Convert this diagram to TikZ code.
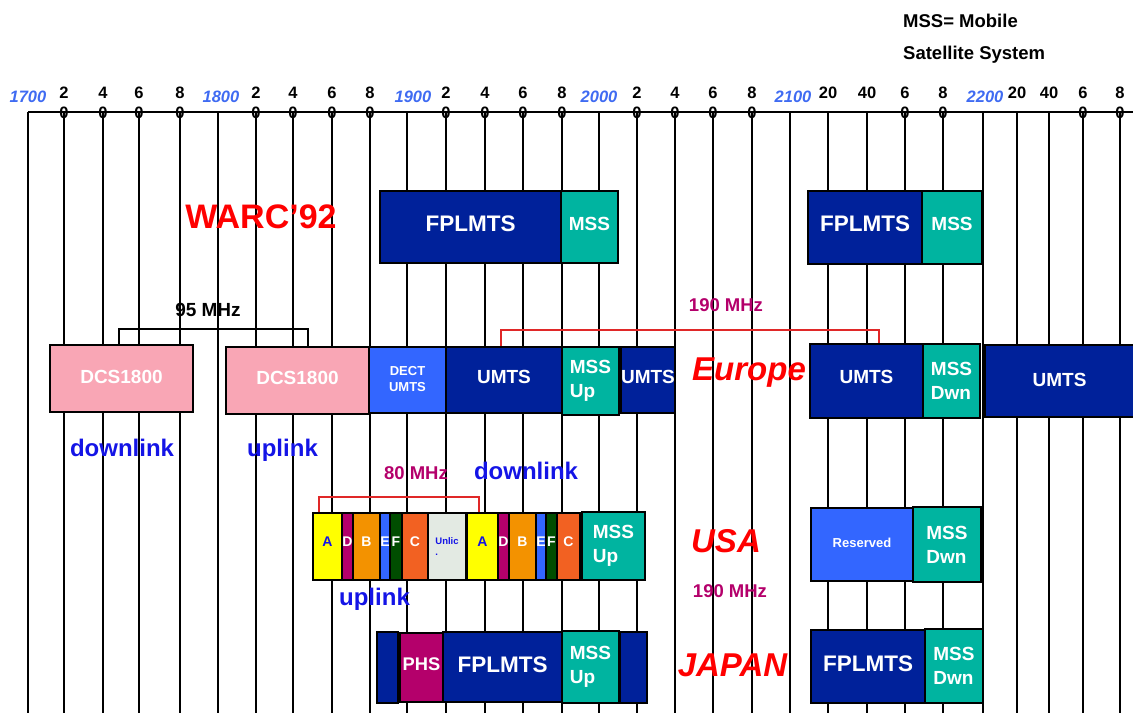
\documentclass[tikz,border=0pt]{standalone}
\usepackage{fontspec}
\setmainfont{Liberation Sans}
\usepackage{tikz}
\usetikzlibrary{positioning,calc}
\usepackage{xcolor}
\definecolor{bandNavy}{HTML}{00219A}
\definecolor{bandTeal}{HTML}{00B4A0}
\definecolor{bandPink}{HTML}{F9A6B5}
\definecolor{bandBlue}{HTML}{3366FF}
\definecolor{bandPlum}{HTML}{B4006B}
\definecolor{bandYellow}{HTML}{FFFF00}
\definecolor{bandOrange}{HTML}{F39200}
\definecolor{bandRust}{HTML}{F26122}
\definecolor{bandGreen}{HTML}{004D00}
\definecolor{bandGrey}{HTML}{E3EAE3}
\definecolor{yearBlue}{HTML}{3F6BF2}
\definecolor{linkBlue}{HTML}{1414E6}
\definecolor{regionRed}{HTML}{FF0000}
\definecolor{bracketRed}{HTML}{E02828}
\newcommand{\fsz}[2]{\fontsize{#1}{#2}\selectfont}

\begin{document}
\begin{tikzpicture}[x=1pt,y=-1pt,every node/.style={inner sep=0pt},
  band/.style={draw=black,line width=1.6pt,text=white,font=\bfseries\fsz{19}{24},align=center},
  wh/.style 2 args={minimum width=#1pt,minimum height=#2pt},
  navybox/.style={band,fill=bandNavy},
  tealbox/.style={band,fill=bandTeal,align=left},
  pinkbox/.style={band,fill=bandPink},
  bluebox/.style={band,fill=bandBlue},
  bigtxt/.style={font=\bfseries\fsz{22.5}{26}},
  chan/.style={band,font=\bfseries\fsz{14}{16}},
  region/.style={text=regionRed,font=\bfseries\itshape\fsz{33}{36}},
  mhz/.style={text=bandPlum,font=\bfseries\fsz{18.5}{22}},
  link/.style={text=linkBlue,font=\bfseries\fsz{24}{28}},
  yearlbl/.style={text=yearBlue,font=\bfseries\itshape\fsz{16.5}{20}},
  numlbl/.style={font=\bfseries\fsz{16.5}{20},align=center},
  gridline/.style={line width=1.3pt},
  brk/.style={line width=1.2pt}]
\useasboundingbox (0,0) rectangle (1133,713);

% frequency scale
\foreach \gx in {28,64,103,139,180,218,256,293,332,370,407,446,485,523,562,599,637,675,713,752,790,828,867,905,943,983,1017,1049,1083,1120}
  \draw[gridline] (\gx,112) -- (\gx,713);
\draw[line width=1.8pt] (28,112) -- (1133,112);
\foreach \gx/\gy in {28/1700,221/1800,413/1900,599/2000,793/2100,985/2200}
  \node[yearlbl] (y\gy) at (\gx,97) {\gy};
\foreach \gx/\ga in {64/2,103/4,139/6,180/8,256/2,293/4,332/6,370/8,446/2,485/4,523/6,562/8,637/2,675/4,713/6,752/8,905/6,943/8,1083/6,1120/8}
  \node[numlbl] (n\gx) at (\gx,102.5) {\ga\\0};
\foreach \gx/\ga in {828/20,867/40,1017/20,1049/40}
  \node[numlbl] (n\gx) at (\gx,93) {\ga};

\node[anchor=west,font=\bfseries\fsz{18.5}{22}] (mss1) at (903,21) {MSS= Mobile};
\node[anchor=west,font=\bfseries\fsz{18.5}{22}] (mss2) at (903,55) {Satellite System};

% WARC'92
\node[region,font=\bfseries\fsz{34}{36}] (warc) at (261,216.5) {WARC\symbol{39}92};
\node[navybox,bigtxt,wh={181}{72}] (wF1) at (470.5,227) {\raisebox{7pt}{FPLMTS}};
\node[tealbox,wh={57}{72}] (wM1) at (589.5,227) {\raisebox{7pt}{MSS}};
\node[navybox,bigtxt,wh={114}{73}] (wF2) at (865,227.5) {\raisebox{7pt}{FPLMTS}};
\node[tealbox,wh={60}{73}] (wM2) at (952,227.5) {\raisebox{7pt}{MSS}};

% Europe
\node[pinkbox,wh={143}{67}] (eD1) at (121.5,378.5) {\raisebox{4pt}{DCS1800}};
\node[pinkbox,wh={143}{67}] (eD2) at (297.5,380.5) {\raisebox{6pt}{DCS1800}};
\node[bluebox,wh={77}{66},font=\bfseries\fsz{13}{16}] (eDe) at (407.5,380) {\raisebox{8pt}{\begin{tabular}{@{}c@{}}DECT\\UMTS\end{tabular}}};
\node[navybox,wh={116}{66}] (eU1) at (504,380) {\raisebox{7pt}{UMTS}};
\node[tealbox,wh={57}{68}] (eM1) at (590.5,381) {MSS\\Up};
\node[navybox,wh={54}{66}] (eU2) at (648,380) {\raisebox{7pt}{UMTS}};
\node[region] (europe) at (749,373) {Europe};
\node[navybox,wh={113}{74}] (eU3) at (866.5,381) {\raisebox{8pt}{UMTS}};
\node[tealbox,wh={57}{74}] (eM2) at (951.5,381) {MSS\\Dwn};
\node[navybox,wh={149}{72}] (eU4) at (1059.5,381) {\raisebox{3pt}{UMTS}};

\node[font=\bfseries\fsz{19}{22}] (l95) at (208,310) {95 MHz};
\coordinate (k95l) at (119,329);
\coordinate (k95r) at (308,329);
\draw[brk] (eD1.north -| k95l) -- (k95l) -- (k95r) -- (eD2.north -| k95r);
\node[mhz] (l190e) at (726,305) {190 MHz};
\coordinate (k190l) at (501,330);
\coordinate (k190r) at (879,330);
\draw[brk,bracketRed] (eU1.north -| k190l) -- (k190l) -- (k190r) -- (eU3.north -| k190r);

\node[link] (dl1) at (122,448) {downlink};
\node[link] (ul1) at (282.5,450.5) {uplink};
\node[link] (dl2) at (526,471) {downlink};

% USA
\node[chan,fill=bandYellow,text=linkBlue,wh={29}{67}] (uA1) at (327.5,546.5) {\raisebox{10pt}{A}};
\node[chan,fill=bandPlum,wh={11}{67}] (uD1) at (347.5,546.5) {\raisebox{10pt}{D}};
\node[chan,fill=bandOrange,wh={27}{67}] (uB1) at (366.5,546.5) {\raisebox{10pt}{B}};
\node[chan,fill=bandBlue,wh={10}{67}] (uE1) at (385,546.5) {\raisebox{10pt}{E}};
\node[chan,fill=bandGreen,wh={12}{67}] (uF1) at (396,546.5) {\raisebox{10pt}{F}};
\node[chan,fill=bandRust,wh={26}{67}] (uC1) at (415,546.5) {\raisebox{10pt}{C}};
\node[chan,fill=bandGrey,text=linkBlue,align=left,font=\bfseries\fsz{9.5}{11.5},wh={38}{67}] (uUn) at (447,546.5) {Unlic\\.};
\node[chan,fill=bandYellow,text=linkBlue,wh={31}{67}] (uA2) at (482.5,546.5) {\raisebox{10pt}{A}};
\node[chan,fill=bandPlum,wh={11}{67}] (uD2) at (503.5,546.5) {\raisebox{10pt}{D}};
\node[chan,fill=bandOrange,wh={27}{67}] (uB2) at (522.5,546.5) {\raisebox{10pt}{B}};
\node[chan,fill=bandBlue,wh={10}{67}] (uE2) at (541,546.5) {\raisebox{10pt}{E}};
\node[chan,fill=bandGreen,wh={11}{67}] (uF2) at (551.5,546.5) {\raisebox{10pt}{F}};
\node[chan,fill=bandRust,wh={23}{67}] (uC2) at (568.5,546.5) {\raisebox{10pt}{C}};
\node[tealbox,wh={63}{68}] (uM1) at (613.5,546) {MSS\\Up};
\node[region] (usa) at (726,541.5) {USA};
\node[bluebox,font=\bfseries\fsz{13}{15},wh={102}{73}] (uRes) at (862,544.5) {\raisebox{3pt}{Reserved}};
\node[tealbox,wh={68}{75}] (uM2) at (947,544.5) {MSS\\Dwn};

\node[mhz] (l80) at (416,473) {80 MHz};
\coordinate (k80l) at (319,497);
\coordinate (k80r) at (479,497);
\draw[brk,bracketRed] (uA1.north -| k80l) -- (k80l) -- (k80r) -- (uA2.north -| k80r);
\node[mhz] (l190u) at (730,591) {190 MHz};
\node[link] (ul2) at (374.5,599) {uplink};

% Japan
\node[navybox,wh={21}{71}] (jN1) at (387.5,667.5) {};
\node[band,fill=bandPlum,font=\bfseries\fsz{18.3}{22},wh={43}{69}] (jP) at (421.5,667.5) {\raisebox{6pt}{PHS}};
\node[navybox,bigtxt,wh={119}{70}] (jF1) at (502.5,667) {\raisebox{5pt}{FPLMTS}};
\node[tealbox,wh={57}{72}] (jM1) at (590.5,667) {MSS\\Up};
\node[navybox,wh={27}{71}] (jN2) at (633.5,667.5) {};
\node[region] (japan) at (732.5,665) {JAPAN};
\node[navybox,bigtxt,wh={114}{73}] (jF2) at (868,666.5) {\raisebox{5pt}{FPLMTS}};
\node[tealbox,wh={58}{74}] (jM2) at (954,666) {MSS\\Dwn};
\end{tikzpicture}
\end{document}
